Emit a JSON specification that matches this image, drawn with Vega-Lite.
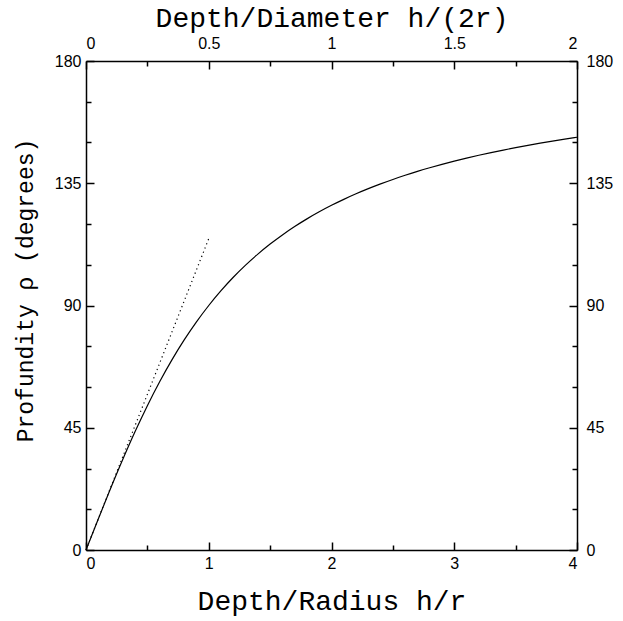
{
  "$schema": "https://vega.github.io/schema/vega-lite/v6.json",
  "autosize": "none",
  "width": 491,
  "height": 489,
  "padding": {"left": 86, "top": 61, "right": 46, "bottom": 71},
  "background": "white",
  "config": {
    "view": {"stroke": null},
    "axis": {
      "grid": false,
      "domainColor": "black",
      "domainWidth": 1.5,
      "tickColor": "black",
      "tickWidth": 1.5,
      "labelColor": "black",
      "labelFont": "Liberation Sans",
      "labelFontSize": 16,
      "titleColor": "black",
      "titleFont": "Courier New, Liberation Mono, monospace",
      "titleFontSize": 28,
      "titleFontWeight": "normal"
    }
  },
  "data": {
    "values": [
      {"h": 0.0, "rho": 0.0}, {"h": 0.1, "rho": 11.421}, {"h": 0.2, "rho": 22.620}, {"h": 0.3, "rho": 33.398},
      {"h": 0.4, "rho": 43.603}, {"h": 0.5, "rho": 53.130}, {"h": 0.6, "rho": 61.928}, {"h": 0.7, "rho": 69.984},
      {"h": 0.8, "rho": 77.320}, {"h": 0.9, "rho": 83.974}, {"h": 1.0, "rho": 90.0}, {"h": 1.1, "rho": 95.453},
      {"h": 1.2, "rho": 100.389}, {"h": 1.3, "rho": 104.863}, {"h": 1.4, "rho": 108.925}, {"h": 1.5, "rho": 112.620},
      {"h": 1.6, "rho": 115.989}, {"h": 1.7, "rho": 119.069}, {"h": 1.8, "rho": 121.891}, {"h": 1.9, "rho": 124.483},
      {"h": 2.0, "rho": 126.870}, {"h": 2.1, "rho": 129.073}, {"h": 2.2, "rho": 131.112}, {"h": 2.3, "rho": 133.003},
      {"h": 2.4, "rho": 134.760}, {"h": 2.5, "rho": 136.397}, {"h": 2.6, "rho": 137.925}, {"h": 2.7, "rho": 139.354},
      {"h": 2.8, "rho": 140.692}, {"h": 2.9, "rho": 141.949}, {"h": 3.0, "rho": 143.130}, {"h": 3.1, "rho": 144.243},
      {"h": 3.2, "rho": 145.292}, {"h": 3.3, "rho": 146.283}, {"h": 3.4, "rho": 147.221}, {"h": 3.5, "rho": 148.109},
      {"h": 3.6, "rho": 148.952}, {"h": 3.7, "rho": 149.752}, {"h": 3.8, "rho": 150.513}, {"h": 3.9, "rho": 151.237},
      {"h": 4.0, "rho": 151.928}
    ]
  },
  "layer": [
    {
      "mark": {"type": "line", "color": "black", "strokeWidth": 1.2, "interpolate": "monotone"},
      "encoding": {
        "x": {"field": "h", "type": "quantitative",
          "scale": {"domain": [0, 4], "nice": false, "zero": false},
          "axis": {"orient": "bottom", "values": [0, 1, 2, 3, 4], "tickSize": -8, "labelPadding": 13,
            "labelBaseline": "top", "title": "Depth/Radius h/r", "titleBaseline": "alphabetic", "titleY": 59}},
        "y": {"field": "rho", "type": "quantitative",
          "scale": {"domain": [0, 180], "nice": false, "zero": false},
          "axis": {"orient": "left", "values": [0, 45, 90, 135, 180], "tickSize": -8, "labelPadding": 13,
            "title": "Profundity ρ (degrees)", "titleFontSize": 23, "titleAngle": 270, "titleBaseline": "alphabetic",
            "titleX": -54, "titleY": 229, "titleAlign": "center"}}
      }
    },
    {
      "data": {"values": [{"h": 0, "rho": 0}, {"h": 1, "rho": 114.6}]},
      "mark": {"type": "line", "color": "black", "strokeWidth": 1.2, "strokeDash": [1.2, 3.3]},
      "encoding": {
        "x": {"field": "h", "type": "quantitative",
          "scale": {"domain": [0, 4], "nice": false, "zero": false},
          "axis": {"orient": "top", "values": [0, 1, 2, 3, 4], "tickSize": -8, "labelPadding": 18,
            "labelExpr": "'' + (datum.value / 2)",
            "title": "Depth/Diameter h/(2r)", "titleBaseline": "alphabetic", "titleY": -35}},
        "y": {"field": "rho", "type": "quantitative",
          "scale": {"domain": [0, 180], "nice": false, "zero": false},
          "axis": {"orient": "right", "values": [0, 45, 90, 135, 180], "tickSize": -8, "labelPadding": 17, "title": null}}
      }
    },
    {
      "mark": {"type": "line", "opacity": 0},
      "encoding": {
        "x": {"field": "h", "type": "quantitative",
          "scale": {"domain": [0, 4], "nice": false, "zero": false},
          "axis": {"orient": "bottom", "values": [0.5, 1.5, 2.5, 3.5], "tickSize": -5, "labels": false, "domain": false, "title": null}},
        "y": {"field": "rho", "type": "quantitative",
          "scale": {"domain": [0, 180], "nice": false, "zero": false},
          "axis": {"orient": "left", "values": [15, 30, 60, 75, 105, 120, 150, 165], "tickSize": -5, "labels": false, "domain": false, "title": null}}
      }
    },
    {
      "mark": {"type": "line", "opacity": 0},
      "encoding": {
        "x": {"field": "h", "type": "quantitative",
          "scale": {"domain": [0, 4], "nice": false, "zero": false},
          "axis": {"orient": "top", "values": [0.5, 1.5, 2.5, 3.5], "tickSize": -5, "labels": false, "domain": false, "title": null}},
        "y": {"field": "rho", "type": "quantitative",
          "scale": {"domain": [0, 180], "nice": false, "zero": false},
          "axis": {"orient": "right", "values": [15, 30, 60, 75, 105, 120, 150, 165], "tickSize": -5, "labels": false, "domain": false, "title": null}}
      }
    }
  ],
  "resolve": {
    "scale": {"x": "independent", "y": "independent"},
    "axis": {"x": "independent", "y": "independent"}
  }
}
